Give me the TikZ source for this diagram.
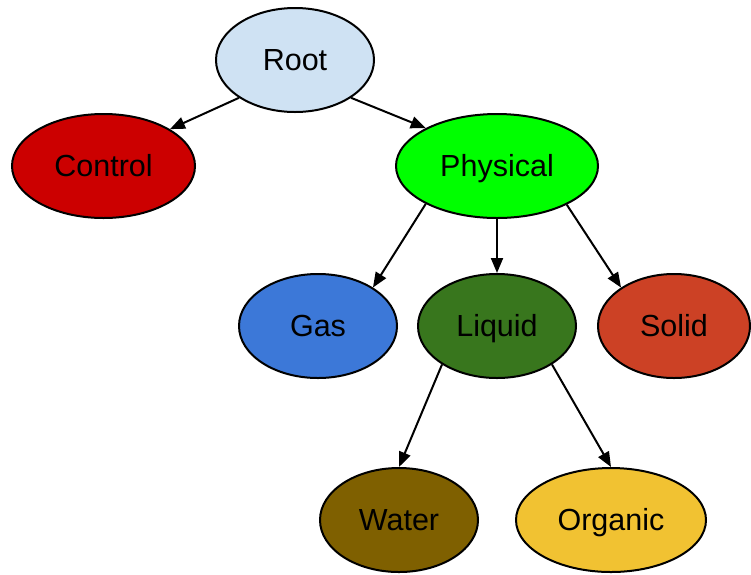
\documentclass[tikz,border=0pt]{standalone}
\usepackage{fontspec}
\setmainfont{Liberation Sans}
\usetikzlibrary{shapes.geometric,arrows.meta}
\definecolor{cRoot}{HTML}{CFE2F3}
\definecolor{cControl}{HTML}{CC0000}
\definecolor{cPhysical}{HTML}{00FF00}
\definecolor{cGas}{HTML}{3C78D8}
\definecolor{cLiquid}{HTML}{38761D}
\definecolor{cSolid}{HTML}{CC4125}
\definecolor{cWater}{HTML}{7F6000}
\definecolor{cOrganic}{HTML}{F1C232}
\tikzset{
  blob/.style={ellipse, draw=black, line width=2pt, inner sep=0pt,
    minimum height=104pt, font=\fontsize{30.5}{33}\selectfont, text=black,
    text height=21.8pt, text depth=0pt},
  conn/.style={line width=2pt, -{Triangle[length=15pt,width=12pt]}},
}
\begin{document}
\begin{tikzpicture}[x=1pt,y=-1pt]
\useasboundingbox (0,0) rectangle (751,574);
\node[blob, fill=cRoot, minimum width=158pt] (root) at (295,60) {Root};
\node[blob, fill=cControl, minimum width=183pt] (control) at (103.5,166) {Control};
\node[blob, fill=cPhysical, minimum width=202pt] (physical) at (497,166) {Physical};
\node[blob, fill=cGas, minimum width=158pt] (gas) at (318,326) {Gas};
\node[blob, fill=cLiquid, minimum width=158pt] (liquid) at (497,326) {Liquid};
\node[blob, fill=cSolid, minimum width=152pt] (solid) at (674,326) {Solid};
\node[blob, fill=cWater, minimum width=158pt] (water) at (399,520) {Water};
\node[blob, fill=cOrganic, minimum width=190pt] (organic) at (611,520) {Organic};
\draw[conn] (root.214.6) -- (control.29.7);
\draw[conn] (root.326.3) -- (physical.152.2);
\draw[conn] (physical.208.4) -- (gas.35.7);
\draw[conn] (physical.south) -- (liquid.north);
\draw[conn] (physical.331.6) -- (solid.144);
\draw[conn] (liquid.215) -- (water.north);
\draw[conn] (liquid.325.4) -- (organic.north);
\end{tikzpicture}
\end{document}
